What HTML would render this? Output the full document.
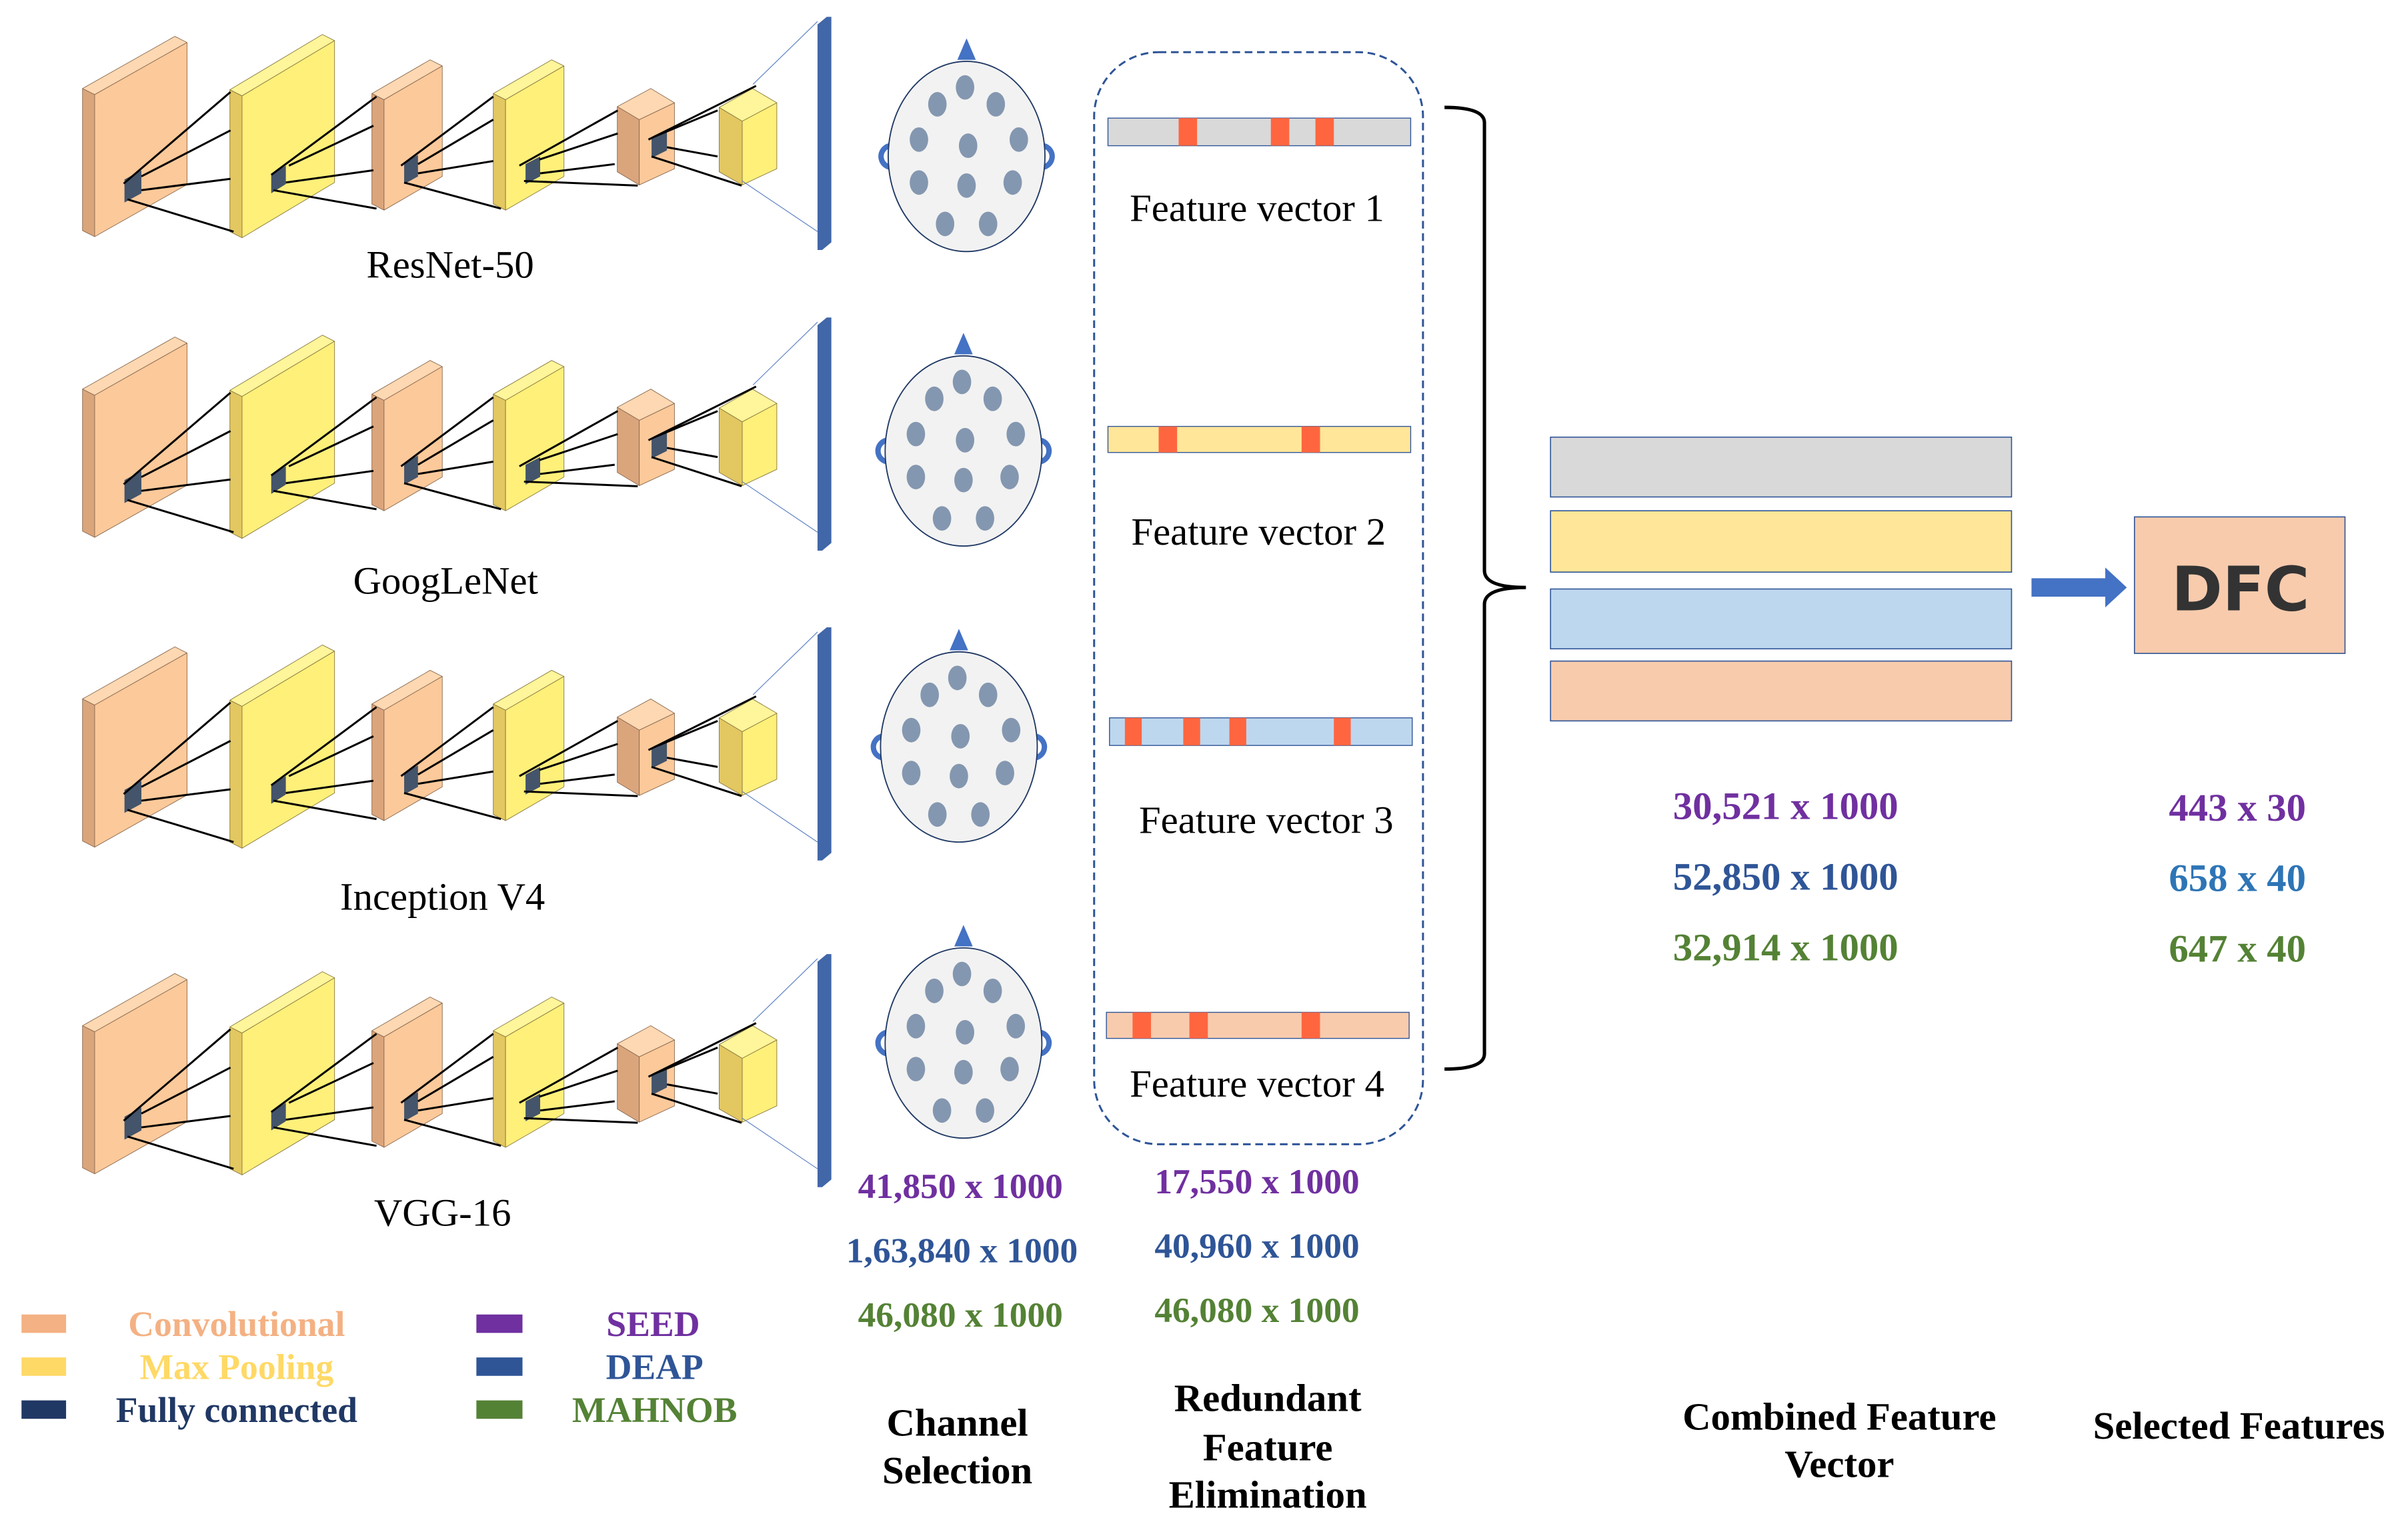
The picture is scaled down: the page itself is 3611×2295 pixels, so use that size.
<!DOCTYPE html>
<html><head><meta charset="utf-8"><style>
html,body{margin:0;padding:0;background:#fff;}
svg{display:block;}
.t{font-family:"Liberation Serif",serif;}
.b{font-family:"Liberation Serif",serif;font-weight:bold;}
</style></head><body>
<svg width="3611" height="2295" viewBox="0 0 1567 997.5" preserveAspectRatio="none" xmlns="http://www.w3.org/2000/svg">
<defs>
<g id="net" stroke-linejoin="round">
  <polygon points="53.7,57.7 61.6,61.7 61.6,154.3 53.7,150.3" fill="#dba57c" stroke="#8a6a50" stroke-width="0.4"/>
  <polygon points="53.7,57.7 113.8,23.7 121.7,27.7 61.6,61.7" fill="#fdd8b2" stroke="#8a6a50" stroke-width="0.4"/>
  <polygon points="61.6,61.7 121.7,27.7 121.7,120.3 61.6,154.3" fill="#fcc99a" stroke="#8a6a50" stroke-width="0.4"/>
  <polygon points="149.6,58.5 157.5,62.5 157.5,155 149.6,151" fill="#e3c761" stroke="#8a7a40" stroke-width="0.4"/>
  <polygon points="149.6,58.5 209.8,22.5 217.7,26.5 157.5,62.5" fill="#fff59a" stroke="#8a7a40" stroke-width="0.4"/>
  <polygon points="157.5,62.5 217.7,26.5 217.7,119 157.5,155" fill="#fff07a" stroke="#8a7a40" stroke-width="0.4"/>
  <polygon points="242,61 249.9,65 249.9,137 242,133" fill="#dba57c" stroke="#8a6a50" stroke-width="0.4"/>
  <polygon points="242,61 279.9,39 287.8,43 249.9,65" fill="#fdd8b2" stroke="#8a6a50" stroke-width="0.4"/>
  <polygon points="249.9,65 287.8,43 287.8,115 249.9,137" fill="#fcc99a" stroke="#8a6a50" stroke-width="0.4"/>
  <polygon points="321,61 329,65 329,137 321,133" fill="#e3c761" stroke="#8a7a40" stroke-width="0.4"/>
  <polygon points="321,61 359,39 367,43 329,65" fill="#fff59a" stroke="#8a7a40" stroke-width="0.4"/>
  <polygon points="329,65 367,43 367,115 329,137" fill="#fff07a" stroke="#8a7a40" stroke-width="0.4"/>
  <polygon points="401.7,69.5 416,78 416,120.6 401.7,112" fill="#dba57c" stroke="#8a6a50" stroke-width="0.4"/>
  <polygon points="416,78 438.9,67 438.9,110 416,120.6" fill="#fcc99a" stroke="#8a6a50" stroke-width="0.4"/>
  <polygon points="401.7,69.5 423.5,57.7 438.9,67 416,78" fill="#fdd8b2" stroke="#8a6a50" stroke-width="0.4"/>
  <polygon points="468,70 483,79 483,120.6 468,112" fill="#e3c761" stroke="#8a7a40" stroke-width="0.4"/>
  <polygon points="483,79 505.5,67 505.5,110 483,120.6" fill="#fff07a" stroke="#8a7a40" stroke-width="0.4"/>
  <polygon points="468,70 489.7,57.7 505.5,67 483,79" fill="#fff59a" stroke="#8a7a40" stroke-width="0.4"/>
  <polygon points="532,16 538,11 541,11 541,158 535,163 532,163" fill="#4167a8"/>
  <line x1="490" y1="55" x2="532" y2="14" stroke="#5b7fc4" stroke-width="0.5"/>
  <line x1="483" y1="118" x2="532" y2="151" stroke="#5b7fc4" stroke-width="0.5"/>
  <g fill="#44546a">
   <polygon points="81,117 92,111 92,126 81,132"/>
   <polygon points="176.5,114 186,108 186,120 176.5,126"/>
   <polygon points="263,106 272,101 272,115 263,120"/>
   <polygon points="342,107 351.5,102 351.5,115 342,120"/>
   <polygon points="424,90 434,86 434,98 424,103"/>
  </g>
  <g stroke="#000" stroke-width="1.3" fill="none">
   <line x1="80.5" y1="119.7" x2="150" y2="60"/>
   <line x1="92" y1="115" x2="150" y2="85"/>
   <line x1="92" y1="124" x2="150" y2="116.6"/>
   <line x1="83" y1="130" x2="152" y2="151"/>
   <line x1="176.5" y1="114" x2="245" y2="63"/>
   <line x1="188" y1="108" x2="243" y2="82"/>
   <line x1="186" y1="119" x2="243" y2="111"/>
   <line x1="178" y1="124" x2="245" y2="136"/>
   <line x1="261" y1="108" x2="321" y2="63"/>
   <line x1="272" y1="107" x2="321" y2="78"/>
   <line x1="272" y1="113" x2="321" y2="105"/>
   <line x1="263" y1="119" x2="326" y2="136"/>
   <line x1="338" y1="108" x2="402" y2="72"/>
   <line x1="351" y1="104" x2="402" y2="87"/>
   <line x1="351.5" y1="113" x2="400" y2="107"/>
   <line x1="341" y1="118" x2="415" y2="121"/>
   <line x1="422" y1="91" x2="492" y2="56"/>
   <line x1="426" y1="89" x2="467" y2="72"/>
   <line x1="434" y1="96" x2="467" y2="102"/>
   <line x1="424" y1="102" x2="482.6" y2="121"/>
  </g>
</g>
<g id="head">
  <polygon points="0,-77 -6,-63 6,-63" fill="#4472c4"/>
  <path d="M-50,-7 a7,7 0 1 0 3,14" fill="none" stroke="#4472c4" stroke-width="3.5"/>
  <path d="M50,-7 a7,7 0 1 1 -3,14" fill="none" stroke="#4472c4" stroke-width="3.5"/>
  <ellipse cx="0" cy="0" rx="51" ry="62" fill="#f2f2f2" stroke="#1f3864" stroke-width="0.8"/>
  <g fill="#8497b0">
   <ellipse cx="-1" cy="-45" rx="6" ry="8"/>
   <ellipse cx="-19" cy="-34" rx="6" ry="8"/>
   <ellipse cx="19" cy="-34" rx="6" ry="8"/>
   <ellipse cx="-31" cy="-11" rx="6" ry="8"/>
   <ellipse cx="1" cy="-7" rx="6" ry="8"/>
   <ellipse cx="34" cy="-11" rx="6" ry="8"/>
   <ellipse cx="-31" cy="17" rx="6" ry="8"/>
   <ellipse cx="0" cy="19" rx="6" ry="8"/>
   <ellipse cx="30" cy="17" rx="6" ry="8"/>
   <ellipse cx="-14" cy="44" rx="6" ry="8"/>
   <ellipse cx="14" cy="44" rx="6" ry="8"/>
  </g>
</g>
</defs>

<use href="#net"/>
<use href="#net" transform="translate(0,196)"/>
<use href="#net" transform="translate(0,398)"/>
<use href="#net" transform="translate(0,611)"/>

<g class="t" font-size="25.5" text-anchor="middle" fill="#000">
 <text x="293" y="181">ResNet-50</text>
 <text x="290" y="387">GoogLeNet</text>
 <text x="288" y="593">Inception V4</text>
 <text x="288" y="799">VGG-16</text>
</g>

<use href="#head" transform="translate(629,102)"/>
<use href="#head" transform="translate(627,294)"/>
<use href="#head" transform="translate(624,487)"/>
<use href="#head" transform="translate(627,680)"/>

<rect x="712" y="34" width="214" height="712" rx="42" ry="42" fill="none" stroke="#2f5597" stroke-width="1.3" stroke-dasharray="5,3"/>

<g stroke="#2f5597" stroke-width="0.6">
 <rect x="721" y="77" width="197" height="18" fill="#d9d9d9"/>
 <rect x="721" y="278" width="197" height="17" fill="#ffe699"/>
 <rect x="722" y="468" width="197" height="18" fill="#bdd7ee"/>
 <rect x="720" y="660" width="197" height="17" fill="#f8cbad"/>
</g>
<g fill="#ff6640">
 <rect x="767" y="77" width="12" height="18"/><rect x="827" y="77" width="12" height="18"/><rect x="856" y="77" width="12" height="18"/>
 <rect x="754" y="278" width="12" height="17"/><rect x="847" y="278" width="12" height="17"/>
 <rect x="732" y="468" width="11" height="18"/><rect x="770" y="468" width="11" height="18"/><rect x="800" y="468" width="11" height="18"/><rect x="868" y="468" width="11" height="18"/>
 <rect x="737" y="660" width="12" height="17"/><rect x="774" y="660" width="12" height="17"/><rect x="847" y="660" width="12" height="17"/>
</g>
<g class="t" font-size="25.5" text-anchor="middle" fill="#000">
 <text x="818" y="144">Feature vector 1</text>
 <text x="819" y="355">Feature vector 2</text>
 <text x="824" y="543">Feature vector 3</text>
 <text x="818" y="715">Feature vector 4</text>
</g>

<path d="M940,70 Q966,70 966,80 L966,372 Q966,383 993,383 Q966,383 966,394 L966,687 Q966,697 940,697" fill="none" stroke="#000" stroke-width="2.2"/>

<g stroke="#2f5597" stroke-width="0.7">
 <rect x="1009" y="285" width="300" height="39" fill="#d9d9d9"/>
 <rect x="1009" y="333" width="300" height="40" fill="#ffe699"/>
 <rect x="1009" y="384" width="300" height="39" fill="#bdd7ee"/>
 <rect x="1009" y="431" width="300" height="39" fill="#f8cbad"/>
</g>
<polygon points="1322,377 1370,377 1370,370 1384,383 1370,396 1370,389 1322,389" fill="#4472c4"/>
<rect x="1389" y="337" width="137" height="89" fill="#f8cbad" stroke="#2f5597" stroke-width="0.7"/>
<text x="1458" y="398" text-anchor="middle" font-family="'DejaVu Sans','Liberation Sans',sans-serif" font-weight="bold" font-size="40" fill="#333">DFC</text>

<g class="b" font-size="25.5" text-anchor="middle">
 <text x="1162" y="534" fill="#7030a0">30,521 x 1000</text>
 <text x="1162" y="580" fill="#2f5597">52,850 x 1000</text>
 <text x="1162" y="626" fill="#548235">32,914 x 1000</text>
 <text x="1456" y="535" fill="#7030a0">443 x 30</text>
 <text x="1456" y="581" fill="#2e75b6">658 x 40</text>
 <text x="1456" y="627" fill="#548235">647 x 40</text>
</g>
<g class="b" font-size="23.2" text-anchor="middle">
 <text x="625" y="781" fill="#7030a0">41,850 x 1000</text>
 <text x="626" y="823" fill="#2f5597">1,63,840 x 1000</text>
 <text x="625" y="865" fill="#548235">46,080 x 1000</text>
 <text x="818" y="778" fill="#7030a0">17,550 x 1000</text>
 <text x="818" y="820" fill="#2f5597">40,960 x 1000</text>
 <text x="818" y="862" fill="#548235">46,080 x 1000</text>
</g>

<g class="b" font-size="25.5" text-anchor="middle" fill="#000">
 <text x="623" y="936">Channel</text>
 <text x="623" y="967">Selection</text>
 <text x="825" y="920">Redundant</text>
 <text x="825" y="952">Feature</text>
 <text x="825" y="983">Elimination</text>
 <text x="1197" y="932">Combined Feature</text>
 <text x="1197" y="963">Vector</text>
 <text x="1457" y="938">Selected Features</text>
</g>

<rect x="14" y="857" width="29" height="12" fill="#f4b183"/>
<rect x="14" y="885" width="29" height="12" fill="#ffd966"/>
<rect x="14" y="913" width="29" height="12" fill="#203864"/>
<rect x="310" y="857" width="30" height="12" fill="#7030a0"/>
<rect x="310" y="885" width="30" height="12" fill="#2f5597"/>
<rect x="310" y="913" width="30" height="12" fill="#548235"/>
<g class="b" font-size="23.3" text-anchor="middle">
 <text x="154" y="871" fill="#f4b183">Convolutional</text>
 <text x="154" y="899" fill="#ffd966">Max Pooling</text>
 <text x="154" y="927" fill="#203864">Fully connected</text>
 <text x="425" y="871" fill="#7030a0">SEED</text>
 <text x="426" y="899" fill="#2f5597">DEAP</text>
 <text x="426" y="927" fill="#548235">MAHNOB</text>
</g>
</svg>
</body></html>
